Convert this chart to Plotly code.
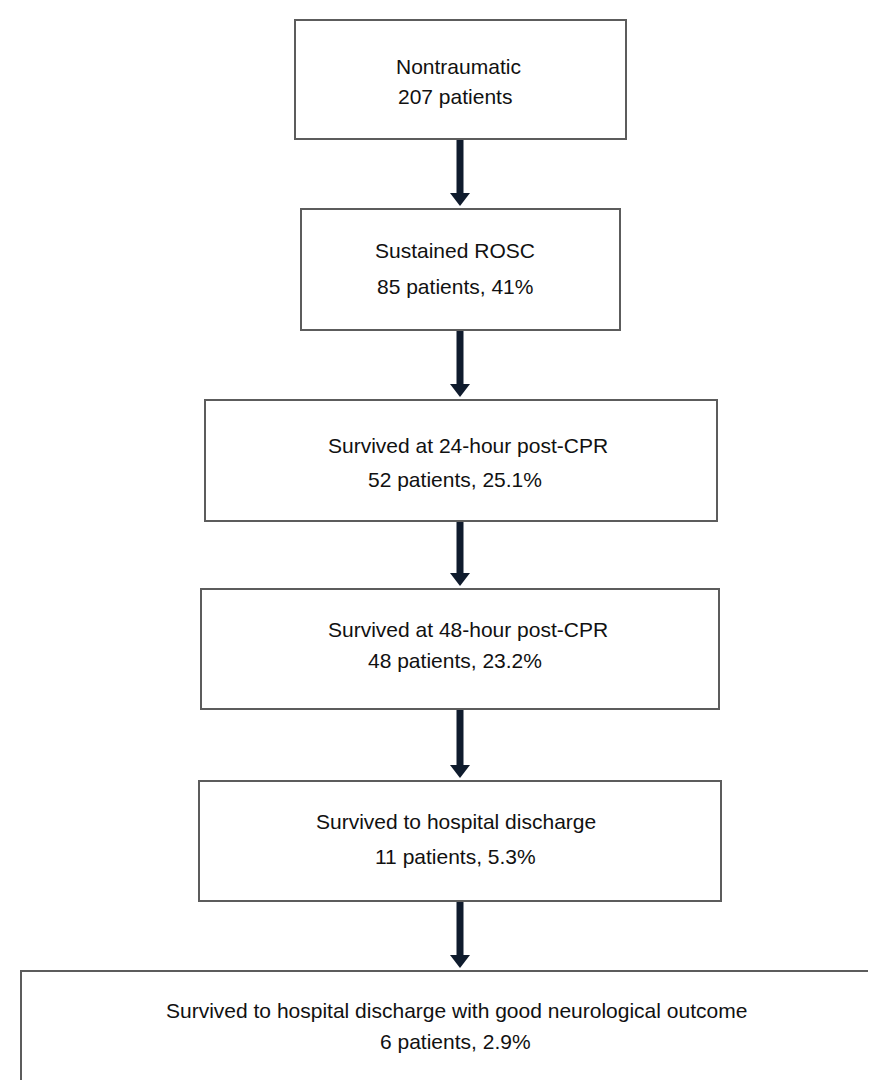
import plotly.graph_objects as go

# ---- data ----
stages = [
    "Nontraumatic",
    "Sustained ROSC",
    "Survived at 24-hour post-CPR",
    "Survived at 48-hour post-CPR",
    "Survived to hospital discharge",
    "Survived to hospital discharge with good neurological outcome",
]
patients = [207, 85, 52, 48, 11, 6]
percents = [None, 41, 25.1, 23.2, 5.3, 2.9]

# ---- layout (pixel geometry of the flowchart) ----
W, H = 876, 1080
box_x0 = [287, 293, 197, 193, 191, 13]
box_x1 = [618, 612, 709, 711, 713, 900]
box_y0 = [12, 201, 392, 581, 773, 963]
box_y1 = [131, 322, 513, 701, 893, 1100]
title_y = [58, 242, 437, 621, 813, 1002]
count_y = [88, 278, 471, 652, 848, 1033]
title_x = [450, 447, 460, 460, 448, 448]
count_x = [447, 447, 447, 447, 447, 447]
arrow_x = 452

FONT = "Liberation Sans, Arial, sans-serif"
BORDER = "#5c5c5c"
ARROW = "#0f1b2d"

fig = go.Figure()
shapes = []
annotations = []

for i, name in enumerate(stages):
    shapes.append(dict(type="rect", xref="x", yref="y",
                       x0=box_x0[i], x1=box_x1[i], y0=box_y0[i], y1=box_y1[i],
                       line=dict(color=BORDER, width=2), fillcolor="white", layer="below"))
    count_txt = f"{patients[i]} patients" if percents[i] is None else f"{patients[i]} patients, {percents[i]:g}%"
    annotations.append(dict(x=title_x[i], y=title_y[i], xref="x", yref="y", text=name,
                            showarrow=False, xanchor="center", yanchor="middle",
                            font=dict(family=FONT, size=21, color="#111111")))
    annotations.append(dict(x=count_x[i], y=count_y[i], xref="x", yref="y", text=count_txt,
                            showarrow=False, xanchor="center", yanchor="middle",
                            font=dict(family=FONT, size=21, color="#111111")))

# arrows between boxes
for i in range(len(stages) - 1):
    top = box_y1[i] + 1
    tip = box_y0[i + 1] - 3
    head = 13
    shapes.append(dict(type="rect", xref="x", yref="y",
                       x0=arrow_x - 3.5, x1=arrow_x + 3.5, y0=top, y1=tip - head + 1,
                       line=dict(width=0), fillcolor=ARROW))
    shapes.append(dict(type="path", xref="x", yref="y",
                       path=f"M {arrow_x-10},{tip-head} L {arrow_x+10},{tip-head} L {arrow_x},{tip} Z",
                       line=dict(width=0), fillcolor=ARROW))

fig.update_layout(
    width=W, height=H,
    margin=dict(l=0, r=0, t=0, b=0),
    paper_bgcolor="white", plot_bgcolor="white",
    xaxis=dict(range=[0, W], visible=False, fixedrange=True),
    yaxis=dict(range=[H, 0], visible=False, fixedrange=True),
    shapes=shapes, annotations=annotations,
    showlegend=False,
)

fig.write_html("out.html")
